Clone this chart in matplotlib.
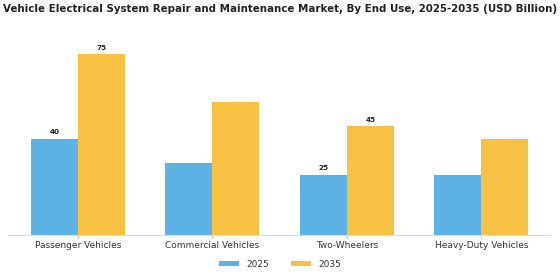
import numpy as np
import matplotlib
matplotlib.use("Agg")
import matplotlib.pyplot as plt

categories = ["Passenger Vehicles", "Commercial Vehicles", "Two-Wheelers", "Heavy-Duty Vehicles"]
values_2025 = [40, 30, 25, 25]
values_2035 = [75, 55, 45, 40]
labelled = [True, False, True, False]

blue = "#5DB2E5"
yellow = "#F7C243"

fig = plt.figure(figsize=(5.6, 2.8), dpi=100)
ax = fig.add_axes([8 / 560, 45 / 280, 542 / 560, 205 / 280])

x = np.arange(len(categories))
w = 0.35
ax.bar(x - w / 2, values_2025, w, color=blue, label="2025")
ax.bar(x + w / 2, values_2035, w, color=yellow, label="2035")

# value labels only on some groups, as in the original
for i, show in enumerate(labelled):
    if show:
        ax.text(x[i] - w / 2, values_2025[i] + 1.5, str(values_2025[i]), ha="center", va="bottom",
                fontsize=5.2, fontweight="bold", color="#222222")
        ax.text(x[i] + w / 2, values_2035[i] + 1.5, str(values_2035[i]), ha="center", va="bottom",
                fontsize=5.2, fontweight="bold", color="#222222")

ax.set_xlim(-0.52, 3.51)
ax.set_ylim(0, 85)
ax.set_xticks(x)
ax.set_xticklabels(categories, fontsize=6.5, color="#333333")
ax.set_yticks([])
ax.tick_params(axis="x", length=2, color="#bbbbbb", pad=2)
for s in ["top", "right", "left"]:
    ax.spines[s].set_visible(False)
ax.spines["bottom"].set_color("#dddddd")
ax.spines["bottom"].set_linewidth(0.8)

fig.legend(loc="center", bbox_to_anchor=(0.5, 0.055), ncol=2, frameon=False, fontsize=6.5,
           handlelength=2.2, handleheight=0.5, columnspacing=2.5, labelcolor="#333333")

fig.suptitle("Vehicle Electrical System Repair and Maintenance Market, By End Use, 2025-2035 (USD Billion)",
             x=0.5, y=0.985, fontsize=7.38, fontweight="bold", color="#222222")

fig.savefig("out.png", dpi=100)
